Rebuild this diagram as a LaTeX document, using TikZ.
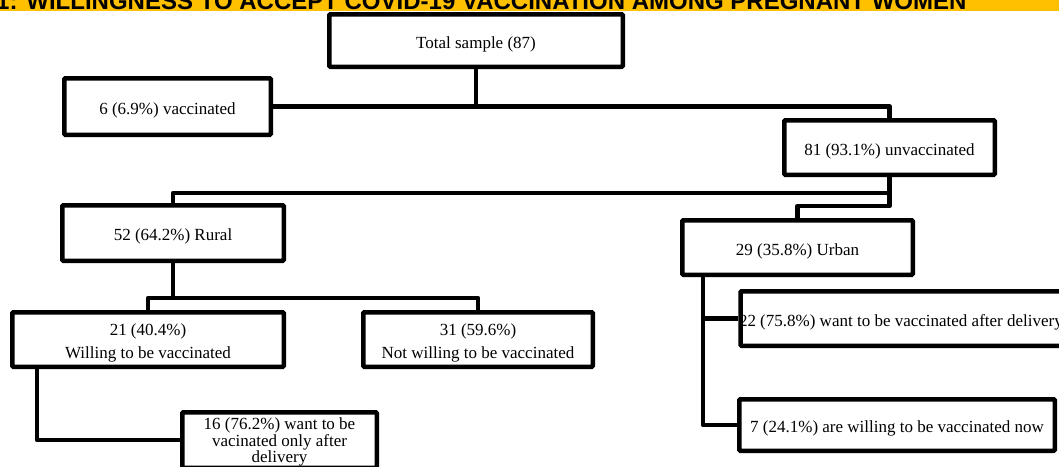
\documentclass[tikz,border=0pt]{standalone}
\usepackage{fontspec}
\setmainfont{Liberation Serif}
\newfontfamily\titlefont{Liberation Sans}
\definecolor{bandyellow}{HTML}{FFC000}
\newcommand{\upstrut}{\rule{0pt}{19pt}}
\begin{document}
\begin{tikzpicture}[x=1pt,y=-1pt,
  box/.style={draw=black, line width=4.5pt, rounded corners=1pt, fill=white,
    inner sep=0pt, align=center, font=\fontsize{17}{23}\selectfont},
  link/.style={draw=black, line width=4.5pt, line join=round}]
\useasboundingbox (0,0) rectangle (1059,466);
\clip (0,0) rectangle (1059,466);
% title band
\fill[bandyellow] (0,0) rectangle (1059,11);
\node[anchor=base west, inner sep=0pt, font=\titlefont\bfseries\fontsize{24}{24}\selectfont] (title) at (-4,9.5)
  {1: WILLINGNESS TO ACCEPT COVID-19 VACCINATION AMONG PREGNANT WOMEN};
% boxes
\node[box, minimum width=293.5pt, minimum height=52.5pt] (total) at (476,40.5) {\upstrut Total sample (87)};
\node[box, minimum width=206.5pt, minimum height=56.5pt] (vacc) at (167.5,106.5) {\upstrut 6 (6.9\%) vaccinated};
\node[box, minimum width=210.5pt, minimum height=54.5pt] (unvac) at (889.5,147.5) {\upstrut 81 (93.1\%) unvaccinated};
\node[box, minimum width=221.5pt, minimum height=55.5pt] (rural) at (173,233) {\upstrut 52 (64.2\%) Rural};
\node[box, minimum width=230.5pt, minimum height=54.5pt] (urban) at (797.5,247.5) {\upstrut 29 (35.8\%) Urban};
\node[box, minimum width=271.5pt, minimum height=54.5pt] (willing) at (148,339.5) {\upstrut 21 (40.4\%)\\Willing to be vaccinated};
\node[box, minimum width=229.5pt, minimum height=54.5pt] (notwilling) at (478,339.5) {\upstrut 31 (59.6\%)\\Not willing to be vaccinated};
\node[box, minimum width=194.5pt, minimum height=55.5pt, font=\fontsize{17}{16.5}\selectfont] (sixteen) at (279.5,440)
  {\rule{0pt}{16pt}16 (76.2\%) want to be\\vacinated only after\\delivery};
\node[box, minimum height=54.5pt, anchor=west] (twentytwo) at (738.25,318.5)
  {\upstrut\makebox[340pt][l]{\hspace{-1.5pt}22 (75.8\%) want to be vaccinated after delivery}};
\node[box, minimum width=315.5pt, minimum height=51.5pt] (seven) at (897,425) {\upstrut 7 (24.1\%) are willing to be vaccinated now};
% junctions
\coordinate (j1) at (173,193);
\coordinate (j2) at (889.5,206);
\coordinate (j3) at (173,298);
% connectors
\draw[link] (total.south) -- (total.south |- vacc.east);
\draw[link] (vacc.east) -| (unvac.north);
\draw[link] (unvac.south) |- (j1) -- (rural.north);
\draw[link] (unvac.south) -- (j2) -| (urban.north);
\draw[link] (rural.south) -- (j3);
\draw[link] (willing.north) -- (willing.north |- j3) -- (notwilling.north |- j3) -- (notwilling.north);
\draw[link] ([xshift=27pt]willing.south west) |- (sixteen.west);
\draw[link] ([xshift=23pt]urban.south west) |- (seven.west);
\draw[link] ([xshift=23pt]urban.south west |- twentytwo.west) -- (twentytwo.west);
\end{tikzpicture}
\end{document}
